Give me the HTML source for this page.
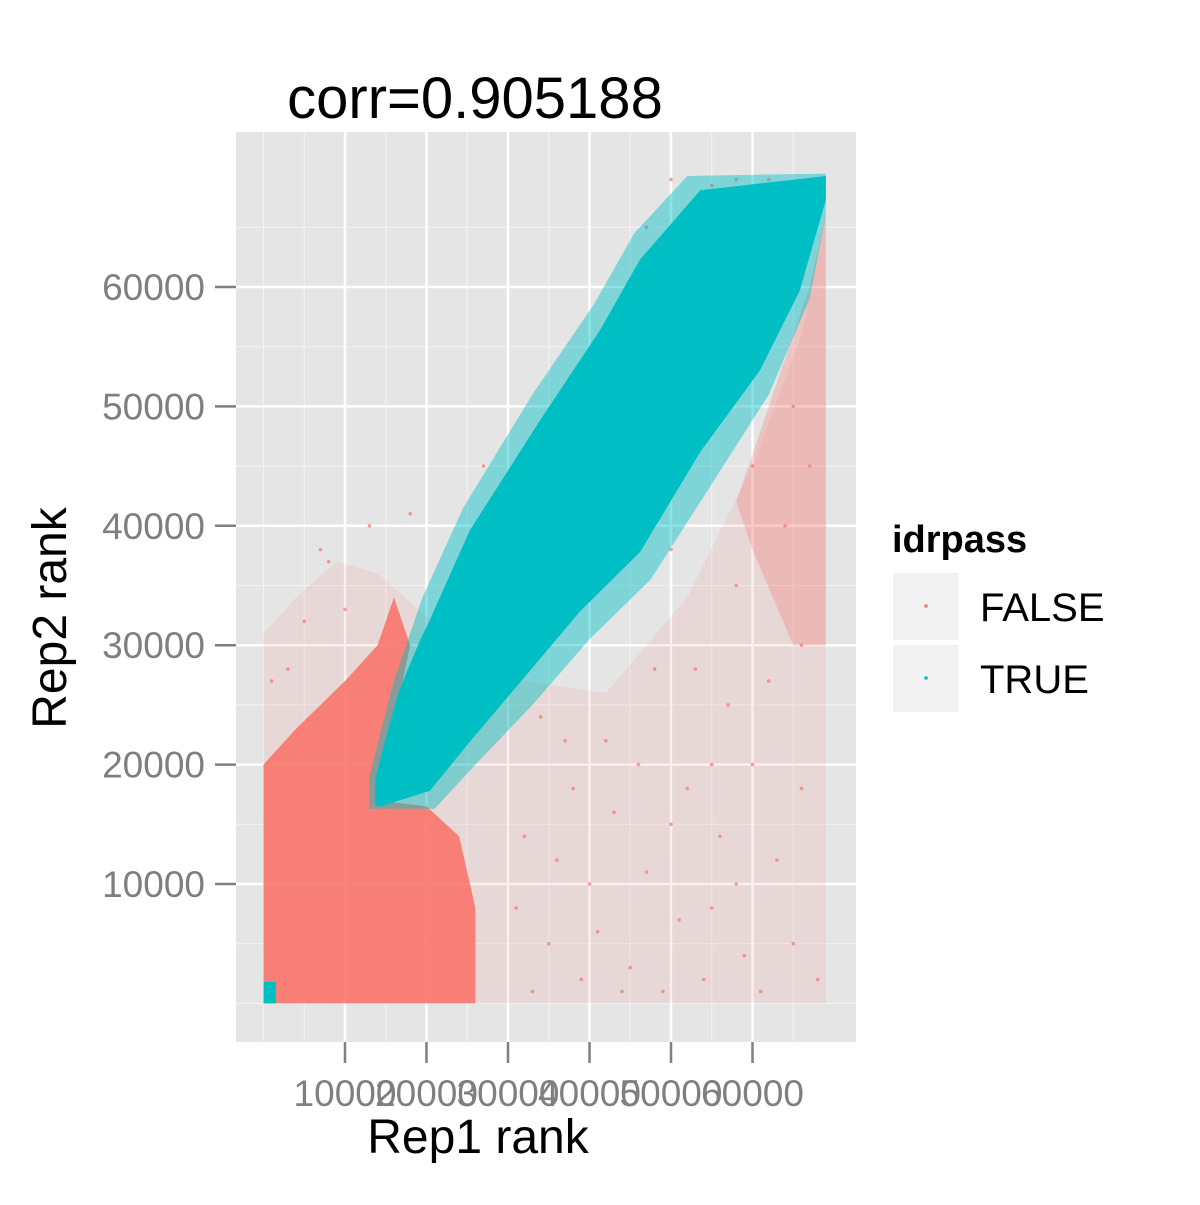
<!DOCTYPE html>
<html><head><meta charset="utf-8"><style>
html,body{margin:0;padding:0;background:#fff;}
svg text{font-family:"Liberation Sans",sans-serif;}
</style></head><body>
<svg id="chart" width="1200" height="1200" xmlns="http://www.w3.org/2000/svg">
<rect width="1200" height="1200" fill="#fff"/>
<rect x="236" y="132" width="620" height="910" fill="#e5e5e5"/>
<g id="grid"></g>
<g id="marks"></g>
<g id="axes"></g>
<text x="475" y="118" font-size="58" text-anchor="middle">corr=0.905188</text>
<text x="478" y="1153" font-size="48" text-anchor="middle">Rep1 rank</text>
<text x="0" y="0" font-size="48" text-anchor="middle" transform="translate(66,618) rotate(-90)">Rep2 rank</text>
<g>
<text x="892" y="552" font-size="38" font-weight="bold">idrpass</text>
<g>
<rect x="893" y="573" width="66" height="67" fill="#f2f2f2"/>
<circle cx="926" cy="606" r="1.8" fill="#F8766D"/>
<text x="980" y="621" font-size="40">FALSE</text></g>
<g>
<rect x="893" y="645" width="66" height="67" fill="#f2f2f2"/>
<circle cx="926" cy="678" r="1.8" fill="#00BFC4"/>
<text x="980" y="693" font-size="40">TRUE</text></g>
</g>
</svg>
<script>
// data (thousands of ranks)
const xTicks = [10000,20000,30000,40000,50000,60000];
const yTicks = [10000,20000,30000,40000,50000,60000];
const minorBreaks = [0,5000,15000,25000,35000,45000,55000,65000];
const redHaze = [[0,0],[0,31],[4,34],[9,37],[14,36],[24,30],[32,27],[42,26],[52,34],[60,45],[66,56],[69,66],[69,0]];
const redEdge = [[58,42],[63,52],[67,60],[69,66],[69,30],[65,30],[60,38]];
const redCore = [[0,0],[0,20],[4,23],[10,27],[14,30],[16,34],[18,30],[14,17],[20,16.5],[24,14],[26,8],[26,0]];
const tealHaze = [[13,16.3],[13,19],[14.3,22.5],[16,27],[18.5,32],[19.5,34],[24.5,41.5],[33,51],[40.5,58.5],[45.5,64.5],[52,69.3],[69,69.5],[69,66],[67,59],[62,51],[55,43.5],[47.5,35.5],[40,30.5],[33,25],[26,20],[21,16.3]];
const tealCore = [[13.7,16.6],[13.7,18.7],[14.9,22],[16.7,26.3],[19.2,30.4],[20.4,32.1],[25.3,39.6],[33.9,48.8],[41.3,56.4],[46.2,62.3],[53.6,68.1],[69,69.3],[69,67.3],[65.8,59.7],[60.9,53],[53.6,46.2],[46.2,37.8],[38.8,32.8],[31.5,26.9],[25.3,21.9],[20.4,17.8],[14.3,16.5]];
const tealOrigin = [[0,0],[0,1.8],[1.5,1.8],[1.5,0]];
const redX = [35,40,45,50,55,60,65,42,48,52,58,63,38,33,44,54,61,66,67,57,46,36,31,53,64,41,47,56,62,68,50,59,37,43,66,39,51,55,60,32,65,34,49,58,50,55,58,62,47,52,5,8,10,3,1,7,13,18,27,44,54];
const redY = [5,10,3,15,8,20,5,22,28,18,35,12,18,1,1,2,1,30,45,25,20,12,8,28,40,6,11,14,27,2,38,4,22,16,18,2,7,20,45,14,50,24,1,10,69,68.5,69,69,65,66,32,37,33,28,27,38,40,41,45,41,55];

const sx = v => 263.5 + v*8.15;       // v in thousands
const sy = v => 1003.4 - v*11.94;
const NS = 'http://www.w3.org/2000/svg';
const grid = document.getElementById('grid');
const marks = document.getElementById('marks');
const axes = document.getElementById('axes');
function mk(tag, attrs, parent){ const e=document.createElementNS(NS,tag); for(const k in attrs) e.setAttribute(k,attrs[k]); parent.appendChild(e); return e; }

minorBreaks.forEach(b=>{
  const lx = mk('line',{x1:sx(b/1000),x2:sx(b/1000),y1:132,y2:1042,stroke:'#f2f2f2','stroke-width':1.2},grid);
  
  
  const ly = mk('line',{x1:236,x2:856,y1:sy(b/1000),y2:sy(b/1000),stroke:'#f2f2f2','stroke-width':1.2},grid);
  
  
});
xTicks.forEach(t=>{
  const x=sx(t/1000);
  const g=mk('line',{x1:x,x2:x,y1:132,y2:1042,stroke:'#fff','stroke-width':2.5},grid);
  
  
  const tk=mk('line',{x1:x,x2:x,y1:1042,y2:1063,stroke:'#7f7f7f','stroke-width':2.5},axes);
  
  
  const tl=mk('text',{x:x,y:1106,'font-size':37,fill:'#7f7f7f','text-anchor':'middle'},axes);
  tl.textContent=String(t);
  
  
});
yTicks.forEach(t=>{
  const y=sy(t/1000);
  const g=mk('line',{x1:236,x2:856,y1:y,y2:y,stroke:'#fff','stroke-width':2.5},grid);
  
  
  const tk=mk('line',{x1:215,x2:236,y1:y,y2:y,stroke:'#7f7f7f','stroke-width':2.5},axes);
  
  
  const tl=mk('text',{x:205,y:y+13,'font-size':37,fill:'#7f7f7f','text-anchor':'end'},axes);
  tl.textContent=String(t);
  
  
});
function poly(pts, fill, op, name){
  const p=mk('polygon',{points:pts.map(d=>sx(d[0])+','+sy(d[1])).join(' '),fill:fill,'fill-opacity':op},marks);
  
  
}
poly(redHaze,'#F8766D',0.12,'false-sparse-region');
poly(redEdge,'#F8766D',0.3,'false-edge-region');
redX.forEach((x,i)=>{
  const c=mk('circle',{cx:sx(x),cy:sy(redY[i]),r:1.8,fill:'#F8766D','fill-opacity':0.7},marks);
  
  
});
poly(redCore,'#F8766D',0.9,'false-dense-region');
poly(tealHaze,'#00BFC4',0.45,'true-sparse-region');
poly(tealCore,'#00BFC4',1,'true-dense-region');
poly(tealOrigin,'#00BFC4',1,'true-origin-cluster');
</script>
</body></html>
